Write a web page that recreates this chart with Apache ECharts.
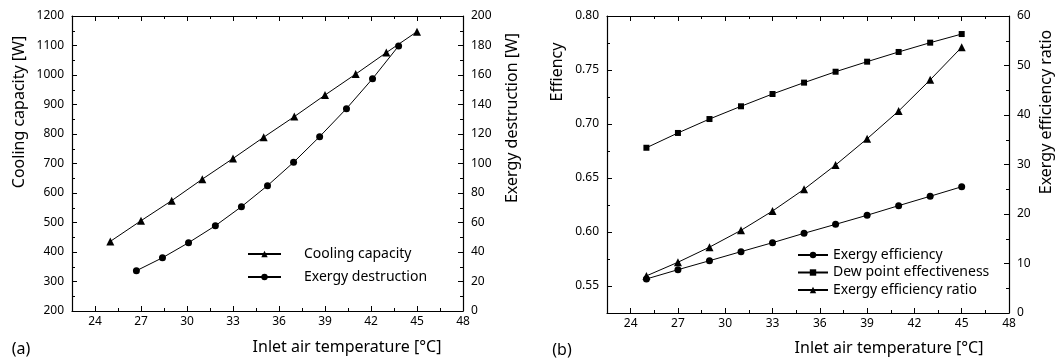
<!DOCTYPE html>
<html>
<head>
<meta charset="utf-8">
<script src="https://cdn.jsdelivr.net/npm/echarts@6/dist/echarts.min.js"></script>
<style>html,body{margin:0;padding:0;background:#fff;}#c{width:1057px;height:361px;}</style>
</head>
<body>
<div id="c"></div>
<script>
// ---- data ----
const tempA_cap = [25, 27, 29, 31, 33, 35, 37, 39, 41, 43, 45];
const coolingCapacity = [436, 506, 574, 647, 717, 789, 859, 932, 1003, 1076, 1147];
const tempA_exd = [26.7, 28.4, 30.1, 31.85, 33.55, 35.25, 36.95, 38.65, 40.4, 42.1, 43.8];
const exergyDestruction = [27.3, 36.1, 46.3, 57.8, 70.7, 85.0, 100.8, 118.2, 137.2, 157.5, 179.7];

const tempB = [25, 27, 29, 31, 33, 35, 37, 39, 41, 43, 45];
const exergyEfficiency = [0.5565, 0.5651, 0.5734, 0.5818, 0.5901, 0.5988, 0.6071, 0.6155, 0.6244, 0.6331, 0.6419];
const dewPointEffectiveness = [0.678, 0.6917, 0.7046, 0.7164, 0.7278, 0.7383, 0.7484, 0.7577, 0.7667, 0.7753, 0.7833];
const exergyEfficiencyRatio = [7.5, 10.25, 13.3, 16.7, 20.6, 25.0, 29.9, 35.2, 40.8, 47.1, 53.7];

const xMajorTicks = [24, 27, 30, 33, 36, 39, 42, 45, 48];
const xMinorTicks = [22.5, 25.5, 28.5, 31.5, 34.5, 37.5, 40.5, 43.5, 46.5];
const effMajorTicks = [0.55, 0.60, 0.65, 0.70, 0.75, 0.80];
const effMinorTicks = [0.525, 0.575, 0.625, 0.675, 0.725, 0.775];

const FONT = 'Noto Sans';
const BLACK = '#000';
const TICK_FS = 12;
const TITLE_FONT = '16px "Noto Sans"';

function zip(xs, ys) { return xs.map((x, i) => [x, ys[i]]); }

function xAxes(grid) {
  const base = { gridIndex: grid, type: 'value', min: 22.5, max: 48, splitLine: { show: false } };
  return [
    Object.assign({}, base, {
      position: 'bottom',
      axisLine: { show: true, lineStyle: { color: BLACK, width: 1.2 } },
      axisTick: { show: true, inside: true, length: 5, customValues: xMajorTicks, lineStyle: { color: BLACK } },
      axisLabel: { show: true, customValues: xMajorTicks, color: BLACK, fontFamily: FONT, fontSize: TICK_FS, margin: 5, formatter: v => String(v) }
    }),
    Object.assign({}, base, {
      position: 'bottom',
      axisLine: { show: false },
      axisTick: { show: true, inside: true, length: 3, customValues: xMinorTicks, lineStyle: { color: BLACK } },
      axisLabel: { show: false }
    }),
    Object.assign({}, base, {
      position: 'top',
      axisLine: { show: true, lineStyle: { color: BLACK, width: 1.2 } },
      axisTick: { show: true, inside: true, length: 5, customValues: xMajorTicks, lineStyle: { color: BLACK } },
      axisLabel: { show: false }
    }),
    Object.assign({}, base, {
      position: 'top',
      axisLine: { show: false },
      axisTick: { show: true, inside: true, length: 3, customValues: xMinorTicks, lineStyle: { color: BLACK } },
      axisLabel: { show: false }
    })
  ];
}

function yAxisStd(grid, pos, min, max, interval) {
  return {
    gridIndex: grid, type: 'value', position: pos, min: min, max: max, interval: interval,
    splitLine: { show: false },
    axisLine: { show: true, lineStyle: { color: BLACK, width: 1.2 } },
    axisTick: { show: true, inside: true, length: 5, lineStyle: { color: BLACK } },
    minorTick: { show: true, splitNumber: 2, length: 3, lineStyle: { color: BLACK } },
    axisLabel: { color: BLACK, fontFamily: FONT, fontSize: TICK_FS, margin: 8, formatter: v => String(v) }
  };
}

const lineStyle = { color: BLACK, width: 1 };

const option = {
  backgroundColor: '#fff',
  animation: false,
  textStyle: { fontFamily: FONT },
  grid: [
    { left: 72, top: 16, width: 391, height: 295 },
    { left: 607, top: 16, width: 402, height: 297 }
  ],
  xAxis: xAxes(0).concat(xAxes(1)),
  yAxis: [
    yAxisStd(0, 'left', 200, 1200, 100),
    yAxisStd(0, 'right', 0, 200, 20),
    {
      gridIndex: 1, type: 'value', position: 'left', min: 0.525, max: 0.8,
      splitLine: { show: false },
      axisLine: { show: true, lineStyle: { color: BLACK, width: 1.2 } },
      axisTick: { show: true, inside: true, length: 5, customValues: effMajorTicks, lineStyle: { color: BLACK } },
      axisLabel: { customValues: effMajorTicks, formatter: v => v.toFixed(2), color: BLACK, fontFamily: FONT, fontSize: TICK_FS, margin: 8 }
    },
    {
      gridIndex: 1, type: 'value', position: 'left', min: 0.525, max: 0.8,
      splitLine: { show: false },
      axisLine: { show: false },
      axisTick: { show: true, inside: true, length: 3, customValues: effMinorTicks, lineStyle: { color: BLACK } },
      axisLabel: { show: false }
    },
    yAxisStd(1, 'right', 0, 60, 10)
  ],
  legend: [
    {
      orient: 'vertical', left: 242, top: 242, itemWidth: 33, itemHeight: 8, itemGap: 9,
      data: ['Cooling capacity', 'Exergy destruction'],
      textStyle: { color: BLACK, fontFamily: FONT, fontSize: 14, lineHeight: 14, padding: [0, 0, 0, 18] }
    },
    {
      orient: 'vertical', left: 792, top: 243, itemWidth: 30, itemHeight: 8, itemGap: 3.5,
      data: ['Exergy efficiency', 'Dew point effectiveness', 'Exergy efficiency ratio'],
      textStyle: { color: BLACK, fontFamily: FONT, fontSize: 14, lineHeight: 14 }
    }
  ],
  series: [
    { name: 'Cooling capacity', type: 'line', xAxisIndex: 0, yAxisIndex: 0, data: zip(tempA_cap, coolingCapacity),
      symbol: 'triangle', symbolSize: 8, itemStyle: { color: BLACK }, lineStyle: lineStyle },
    { name: 'Exergy destruction', type: 'line', xAxisIndex: 0, yAxisIndex: 1, data: zip(tempA_exd, exergyDestruction),
      symbol: 'circle', symbolSize: 7, itemStyle: { color: BLACK }, lineStyle: lineStyle },
    { name: 'Exergy efficiency', type: 'line', xAxisIndex: 4, yAxisIndex: 2, data: zip(tempB, exergyEfficiency),
      symbol: 'circle', symbolSize: 7, itemStyle: { color: BLACK }, lineStyle: lineStyle },
    { name: 'Dew point effectiveness', type: 'line', xAxisIndex: 4, yAxisIndex: 2, data: zip(tempB, dewPointEffectiveness),
      symbol: 'rect', symbolSize: 6, itemStyle: { color: BLACK }, lineStyle: lineStyle },
    { name: 'Exergy efficiency ratio', type: 'line', xAxisIndex: 4, yAxisIndex: 4, data: zip(tempB, exergyEfficiencyRatio),
      symbol: 'triangle', symbolSize: 8, itemStyle: { color: BLACK }, lineStyle: lineStyle }
  ],
  graphic: [
    { type: 'text', x: 19, y: 112, rotation: Math.PI / 2, style: { text: 'Cooling capacity [W]', fill: BLACK, font: TITLE_FONT, align: 'center', verticalAlign: 'middle' } },
    { type: 'text', x: 512, y: 118, rotation: Math.PI / 2, style: { text: 'Exergy destruction [W]', fill: BLACK, font: TITLE_FONT, align: 'center', verticalAlign: 'middle' } },
    { type: 'text', x: 557, y: 72, rotation: Math.PI / 2, style: { text: 'Effiency', fill: BLACK, font: TITLE_FONT, align: 'center', verticalAlign: 'middle' } },
    { type: 'text', x: 1046, y: 112, rotation: Math.PI / 2, style: { text: 'Exergy efficiency ratio', fill: BLACK, font: TITLE_FONT, align: 'center', verticalAlign: 'middle' } },
    { type: 'text', x: 347, y: 347, style: { text: 'Inlet air temperature [°C]', fill: BLACK, font: TITLE_FONT, align: 'center', verticalAlign: 'middle' } },
    { type: 'text', x: 889, y: 348, style: { text: 'Inlet air temperature [°C]', fill: BLACK, font: TITLE_FONT, align: 'center', verticalAlign: 'middle' } },
    { type: 'text', x: 21, y: 349, style: { text: '(a)', fill: BLACK, font: TITLE_FONT, align: 'center', verticalAlign: 'middle' } },
    { type: 'text', x: 562, y: 350, style: { text: '(b)', fill: BLACK, font: TITLE_FONT, align: 'center', verticalAlign: 'middle' } }
  ]
};

const chart = echarts.init(document.getElementById('c'), null, { renderer: 'canvas' });
chart.setOption(option);
</script>
</body>
</html>
